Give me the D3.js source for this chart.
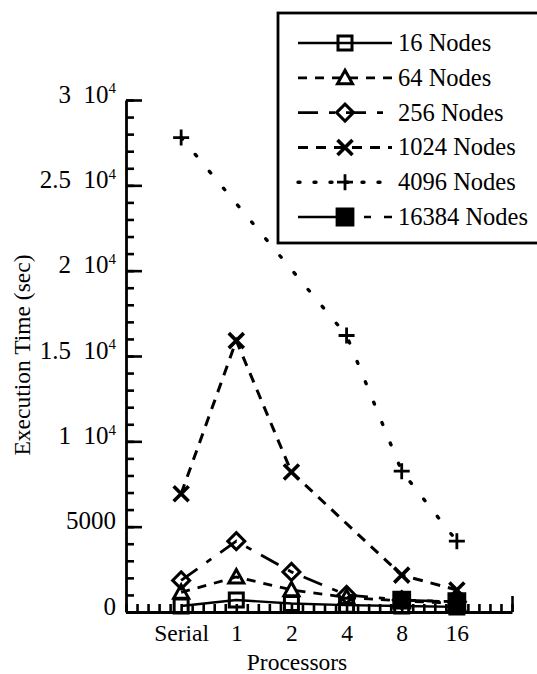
<!DOCTYPE html>
<html>
<head>
<meta charset="utf-8">
<script src="https://cdn.jsdelivr.net/npm/d3@7"></script>
<style>
  body { margin: 0; background: #fff; }
  svg { display: block; }
  svg text { font-family: "Liberation Serif", "Times New Roman", serif; }
</style>
</head>
<body>
<script>
// data (execution time in seconds)
var categories = ["Serial", "1", "2", "4", "8", "16"];
var nodes16    = [350, 700, 500, 400, 350, 300];
var nodes64    = [1150, 2050, 1300, 850, 650, 500];
var nodes256   = [1850, 4150, 2350, 1000, 700, 600];
var nodes1024  = [6930, 15900, 8200, null, 2160, 1290];
var nodes4096  = [27800, null, null, 16200, 8250, 4150];
var nodes16384 = [null, null, null, null, 700, 600];
var seriesNames = ["16 Nodes", "64 Nodes", "256 Nodes", "1024 Nodes", "4096 Nodes", "16384 Nodes"];
var yTickLabels = ["0", "5000", "1 10^4", "1.5 10^4", "2 10^4", "2.5 10^4", "3 10^4"];
var yTickValues = [0, 5000, 10000, 15000, 20000, 25000, 30000];

var width = 537, height = 674;
var margin = {top: 100, left: 126, bottom: 62};

var x = d3.scaleLinear().domain([0, 7]).range([margin.left, 512]);
var y = d3.scaleLinear().domain([0, 30000]).range([height - margin.bottom, margin.top]);

var svg = d3.select("body").append("svg")
    .attr("width", width)
    .attr("height", height);

// custom outline markers, size = side length squared
var shapes = {
  square: {draw: function(c, s) { var r = Math.sqrt(s) / 2; c.rect(-r, -r, 2 * r, 2 * r); }},
  triangle: {draw: function(c, s) { var r = Math.sqrt(s) / 2; c.moveTo(0, -r); c.lineTo(r, r * 0.8); c.lineTo(-r, r * 0.8); c.closePath(); }},
  diamond: {draw: function(c, s) { var r = Math.sqrt(s) / 2; c.moveTo(0, -r); c.lineTo(r, 0); c.lineTo(0, r); c.lineTo(-r, 0); c.closePath(); }},
  times: {draw: function(c, s) { var r = Math.sqrt(s) / 2; c.moveTo(-r, -r); c.lineTo(r, r); c.moveTo(r, -r); c.lineTo(-r, r); }},
  plus: {draw: function(c, s) { var r = Math.sqrt(s) / 2; c.moveTo(-r, 0); c.lineTo(r, 0); c.moveTo(0, -r); c.lineTo(0, r); }}
};

var series = [
  {name: seriesNames[0], values: nodes16,    shape: shapes.square,   size: 14, fill: "none", dash: null,             width: 2.4, mark: 3},
  {name: seriesNames[1], values: nodes64,    shape: shapes.triangle, size: 15, fill: "none", dash: "9,8",            width: 2.8, mark: 3},
  {name: seriesNames[2], values: nodes256,   shape: shapes.diamond,  size: 17, fill: "none", dash: "20,11,6,11",     width: 2.8, mark: 3},
  {name: seriesNames[3], values: nodes1024,  shape: shapes.times,    size: 15, fill: "none", dash: "10,8",           width: 3,   mark: 3.6},
  {name: seriesNames[4], values: nodes4096,  shape: shapes.plus,     size: 16, fill: "none", dash: "2,20",           width: 3.4, mark: 2.8},
  {name: seriesNames[5], values: nodes16384, shape: shapes.square,   size: 16, fill: "#000", dash: "38,8,7,13,7,13", width: 2.6, mark: 2.8}
];

function styleAxis(g) {
  g.attr("font-family", null).attr("font-size", null);
  g.selectAll("line").attr("stroke-width", 2.6);
  g.select(".domain").attr("stroke-width", 2.8);
}

// y axis: minor then major ticks pointing inward
svg.append("g")
    .attr("transform", "translate(" + margin.left + ",0)")
    .call(d3.axisLeft(y).tickValues(d3.range(0, 30001, 1000)).tickSize(-8).tickSizeOuter(0).tickFormat(""))
    .call(styleAxis);

var yAxis = svg.append("g")
    .attr("transform", "translate(" + margin.left + ",0)")
    .call(d3.axisLeft(y).tickValues(yTickValues).tickSize(-16).tickSizeOuter(0).tickPadding(10).tickFormat(""))
    .call(styleAxis)
    .call(function(g) { g.select(".domain").remove(); });

yAxis.selectAll(".tick text")
    .attr("font-size", 25)
    .attr("fill", "#000")
    .attr("dy", "0.08em")
    .each(function(d, i) {
      var parts = yTickLabels[i].split("^");
      var t = d3.select(this);
      if (parts.length === 1) {
        t.text(parts[0]);
      } else {
        t.append("tspan").text(parts[0].replace(" ", "\u2002"));
        t.append("tspan").attr("font-size", 15).attr("dy", "-0.62em").text(parts[1]);
      }
    });

// x axis: minor ticks every 0.2, a tall one at the right end
svg.append("g")
    .attr("transform", "translate(0," + y(0) + ")")
    .call(d3.axisBottom(x).tickValues(d3.range(0, 7.01, 0.2)).tickSize(-8).tickSizeOuter(0).tickFormat(""))
    .call(styleAxis);

svg.append("g")
    .attr("transform", "translate(0," + y(0) + ")")
    .call(d3.axisBottom(x).tickValues([7]).tickSize(-16).tickSizeOuter(0).tickFormat(""))
    .call(styleAxis)
    .call(function(g) { g.select(".domain").remove(); });

svg.append("g")
    .attr("transform", "translate(0," + y(0) + ")")
    .call(d3.axisBottom(x).tickValues(d3.range(1, 7)).tickSize(0).tickPadding(12)
      .tickFormat(function(d) { return categories[d - 1]; }))
    .call(styleAxis)
    .call(function(g) { g.select(".domain").remove(); g.selectAll("text").attr("font-size", 23.5).attr("fill", "#000"); });

svg.append("text")
    .attr("x", 297)
    .attr("y", 670)
    .attr("text-anchor", "middle")
    .attr("font-size", 23.5)
    .text("Processors");

svg.append("text")
    .attr("transform", "translate(30,355) rotate(-90)")
    .attr("text-anchor", "middle")
    .attr("font-size", 23.5)
    .text("Execution Time (sec)");

// lines and markers
var line = d3.line()
    .x(function(d) { return x(d.i + 1); })
    .y(function(d) { return y(d.v); });

series.forEach(function(s) {
  var pts = s.values.map(function(v, i) { return {i: i, v: v}; })
      .filter(function(d) { return d.v != null; });

  svg.append("path")
      .datum(pts)
      .attr("fill", "none")
      .attr("stroke", "#000")
      .attr("stroke-width", s.width)
      .attr("stroke-linecap", s.dash === "2,20" ? "round" : "butt")
      .attr("stroke-dasharray", s.dash)
      .attr("d", line);

  svg.selectAll(null)
      .data(pts)
      .enter().append("path")
      .attr("transform", function(d) { return "translate(" + x(d.i + 1) + "," + y(d.v) + ")"; })
      .attr("d", d3.symbol().type(s.shape).size(s.size * s.size))
      .attr("fill", s.fill)
      .attr("stroke", "#000")
      .attr("stroke-width", s.mark);
});

// legend
var legend = svg.append("g");
legend.append("rect")
    .attr("x", 278)
    .attr("y", 13)
    .attr("width", 270)
    .attr("height", 230)
    .attr("fill", "#fff")
    .attr("stroke", "#000")
    .attr("stroke-width", 2.8);

var rowY = d3.scalePoint().domain(seriesNames).range([43, 217]);

series.forEach(function(s) {
  var cy = rowY(s.name);
  legend.append("line")
      .attr("x1", 298).attr("x2", 392)
      .attr("y1", cy).attr("y2", cy)
      .attr("stroke", "#000")
      .attr("stroke-width", s.width)
      .attr("stroke-linecap", s.dash === "2,20" ? "round" : "butt")
      .attr("stroke-dasharray", s.dash === "2,20" ? "2,14" : s.dash);
  legend.append("path")
      .attr("transform", "translate(345," + cy + ")")
      .attr("d", d3.symbol().type(s.shape).size(s.size * s.size))
      .attr("fill", s.fill)
      .attr("stroke", "#000")
      .attr("stroke-width", s.mark);
  legend.append("text")
      .attr("x", 398)
      .attr("y", cy + 8)
      .attr("font-size", 24.5)
      .text(s.name);
});
</script>
</body>
</html>
